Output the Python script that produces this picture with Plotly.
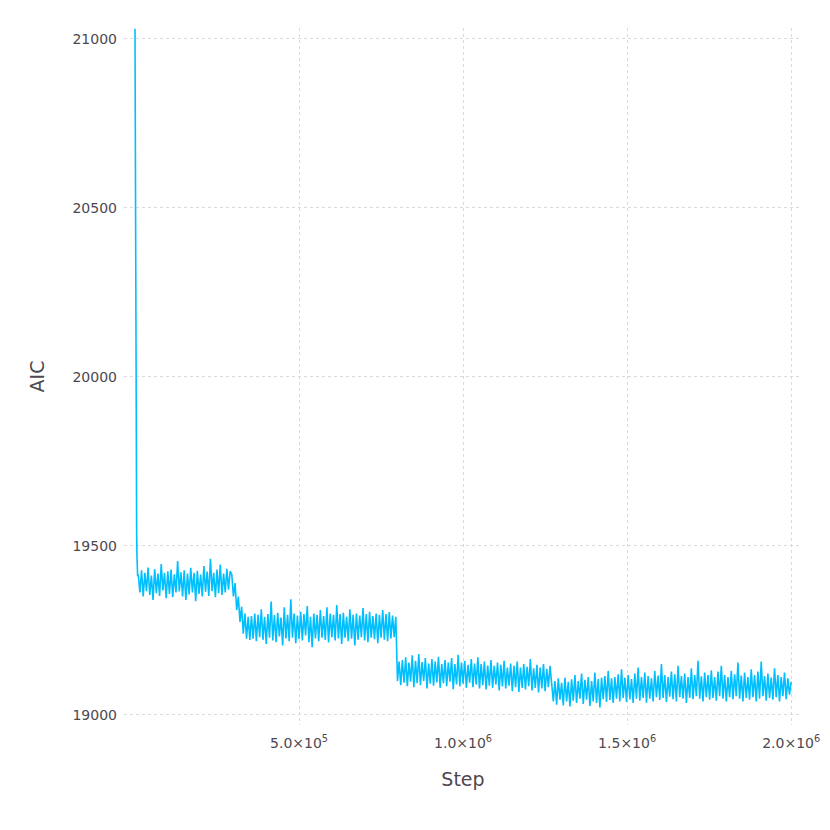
import numpy as np
import plotly.graph_objects as go

# start of the run: steep fall from the initial AIC
head_steps = [0, 1000, 2000, 3000, 4000, 5000, 6000, 8000]
head_aic = [21030, 20600, 20150, 19850, 19660, 19540, 19470, 19410]

# plateau 1, steps 1.0e4 .. 2.9e5
aic_p1 = [19415, 19362, 19428, 19350, 19420, 19366, 19436, 19355, 19412, 19340,
          19431, 19360, 19418, 19352, 19446, 19368, 19420, 19345, 19425, 19358,
          19430, 19348, 19416, 19362, 19455, 19365, 19422, 19350, 19428, 19340,
          19418, 19356, 19435, 19362, 19420, 19336, 19426, 19358, 19415, 19350,
          19440, 19364, 19424, 19352, 19462, 19366, 19420, 19348, 19430, 19360,
          19445, 19355, 19418, 19362, 19432, 19370, 19425]

# transition, steps 2.95e5 .. 3.5e5
aic_t1 = [19415, 19350, 19390, 19310, 19350, 19275, 19320, 19240, 19300, 19225,
          19290, 19222]

# plateau 2, steps 3.55e5 .. 7.95e5
aic_p2 = [19292, 19225, 19300, 19218, 19296, 19230, 19312, 19222, 19290, 19210,
          19298, 19228, 19335, 19220, 19295, 19215, 19302, 19232, 19288, 19205,
          19318, 19226, 19296, 19218, 19342, 19228, 19300, 19212, 19294, 19224,
          19305, 19220, 19298, 19235, 19322, 19215, 19290, 19200, 19300, 19226,
          19296, 19218, 19310, 19228, 19292, 19222, 19318, 19214, 19300, 19230,
          19296, 19220, 19325, 19226, 19298, 19210, 19302, 19228, 19290, 19218,
          19312, 19225, 19296, 19205, 19300, 19222, 19294, 19230, 19316, 19220,
          19298, 19215, 19305, 19228, 19292, 19224, 19300, 19212, 19296, 19228,
          19310, 19222, 19298, 19218, 19304, 19226, 19294, 19230, 19290]

# plateau 3, steps 8.0e5 .. 1.27e6
aic_p3 = [19100, 19158, 19088, 19162, 19095, 19170, 19085, 19155, 19098, 19176,
          19082, 19160, 19094, 19180, 19088, 19156, 19100, 19168, 19078, 19152,
          19092, 19165, 19086, 19158, 19096, 19172, 19080, 19150, 19094, 19162,
          19085, 19155, 19098, 19168, 19076, 19150, 19090, 19178, 19084, 19155,
          19092, 19160, 19080, 19148, 19095, 19165, 19082, 19152, 19090, 19170,
          19078, 19150, 19088, 19158, 19075, 19146, 19086, 19162, 19080, 19145,
          19090, 19155, 19072, 19148, 19084, 19160, 19078, 19140, 19086, 19152,
          19070, 19145, 19082, 19158, 19068, 19140, 19080, 19150, 19075, 19142,
          19085, 19165, 19072, 19138, 19080, 19148, 19066, 19140, 19078, 19150,
          19070, 19136, 19082, 19145, 19090]

# plateau 4, steps 1.275e6 .. 2.0e6
aic_p4 = [19040, 19100, 19030, 19108, 19045, 19095, 19028, 19110, 19040, 19098,
          19025, 19105, 19042, 19118, 19035, 19100, 19048, 19122, 19032, 19104,
          19045, 19112, 19026, 19100, 19040, 19125, 19035, 19106, 19022, 19110,
          19046, 19115, 19038, 19130, 19044, 19108, 19035, 19112, 19048, 19120,
          19040, 19135, 19050, 19110, 19038, 19118, 19046, 19106, 19035, 19122,
          19048, 19140, 19042, 19112, 19050, 19125, 19036, 19115, 19048, 19108,
          19040, 19130, 19052, 19116, 19044, 19150, 19050, 19118, 19038, 19112,
          19054, 19128, 19046, 19120, 19040, 19145, 19052, 19115, 19048, 19122,
          19035, 19112, 19050, 19138, 19046, 19118, 19055, 19160, 19048, 19114,
          19040, 19125, 19052, 19118, 19045, 19132, 19050, 19112, 19042, 19128,
          19055, 19145, 19048, 19118, 19040, 19112, 19052, 19130, 19046, 19120,
          19055, 19155, 19048, 19116, 19040, 19125, 19050, 19112, 19045, 19135,
          19052, 19118, 19040, 19128, 19048, 19158, 19055, 19115, 19042, 19122,
          19050, 19110, 19045, 19138, 19052, 19118, 19040, 19112, 19055, 19125,
          19046, 19108, 19060, 19098]

segments = [(10000, 290000, aic_p1), (295000, 350000, aic_t1),
            (355000, 795000, aic_p2), (800000, 1270000, aic_p3),
            (1275000, 2000000, aic_p4)]

steps = list(head_steps)
aic = list(head_aic)
for a, b, vals in segments:
    steps += list(np.linspace(a, b, len(vals)))
    aic += vals

xtick_vals = [5e5, 1e6, 1.5e6, 2e6]
xtick_text = ["5.0×10<sup>5</sup>", "1.0×10<sup>6</sup>",
              "1.5×10<sup>6</sup>", "2.0×10<sup>6</sup>"]
ytick_vals = [19000, 19500, 20000, 20500, 21000]
ytick_text = ["19000", "19500", "20000", "20500", "21000"]

txt = "#4d4850"
grid = "#d9d9e0"

fig = go.Figure()
fig.add_trace(go.Scatter(x=steps, y=aic, mode="lines",
                         line=dict(color="#00BFFF", width=1.6),
                         showlegend=False))

# the page body adds ~8px, so margins are set a bit smaller
fig.update_layout(
    width=830, height=830,
    margin=dict(l=116, r=36, t=20, b=113),
    paper_bgcolor="white", plot_bgcolor="white",
    font=dict(family="DejaVu Sans", color=txt, size=14),
)
fig.update_xaxes(
    range=[-33500, 2033000], tickvals=xtick_vals, ticktext=xtick_text,
    showgrid=True, gridcolor=grid, griddash="dot", gridwidth=1,
    zeroline=False, showline=False, ticks="", ticklabelstandoff=8,
    automargin=False,
    title=dict(text="Step", font=dict(size=19), standoff=22),
)
fig.update_yaxes(
    range=[18970, 21032], tickvals=ytick_vals, ticktext=ytick_text,
    showgrid=True, gridcolor=grid, griddash="dot", gridwidth=1,
    zeroline=False, showline=False, ticks="", ticklabelstandoff=6,
    automargin=False,
    title=dict(text="AIC", font=dict(size=19), standoff=22),
)

fig.write_html("out.html")
